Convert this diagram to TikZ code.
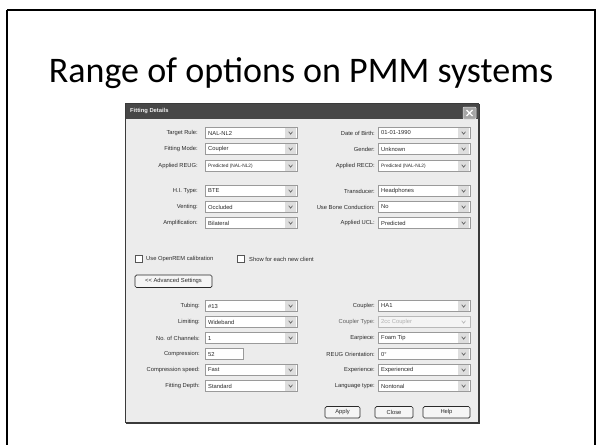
\documentclass[tikz,border=0pt]{standalone}
\usepackage{fontspec}
\setmainfont{Carlito}
\newfontfamily\uifont{Liberation Sans}
\definecolor{dlgbg}{HTML}{ECECEC}
\definecolor{dlgborder}{HTML}{3A3A3A}
\definecolor{titlebar}{HTML}{474747}
\definecolor{fieldline}{HTML}{9A9A9A}
\definecolor{ddbtn}{HTML}{DEDEDE}
\definecolor{uitext}{HTML}{2A2A2A}
\definecolor{disabledtext}{HTML}{B0B0B0}
\tikzset{
  lbl/.style={inner sep=0pt, font=\uifont\fontsize{5.8}{7}\selectfont, text=uitext, anchor=east},
  val/.style={inner sep=0pt, font=\uifont\fontsize{5.8}{7}\selectfont, text=uitext, anchor=west},
  smallval/.style={val, font=\uifont\fontsize{4.8}{6}\selectfont},
  fieldbox/.style={draw=fieldline, fill=white, line width=0.6pt},
  disabledbox/.style={draw=fieldline!70, fill=dlgbg!60!white, line width=0.6pt},
  ddbox/.style={fill=ddbtn, draw=none},
  chev/.style={draw=uitext!80, line width=0.6pt},
  btnbox/.style={draw=uitext, fill=dlgbg!50!white, line width=0.7pt, rounded corners=1.5pt},
  chk/.style={draw=uitext!80, fill=white, line width=0.6pt},
}
\newcommand\ddrow[7]{% name, y, label right, field left, field right, label, value
  \node[lbl] (#1l) at (#3,#2) {#6};
  \path[fieldbox] (#4,#2-5.5) rectangle (#5,#2+5.5);
  \path[ddbox] (#5-12,#2-4.6) rectangle (#5-0.9,#2+4.6);
  \draw[chev] (#5-8.3,#2-1.3) -- (#5-6.4,#2+1.2) -- (#5-4.5,#2-1.3);
  \node[val] (#1v) at (#4+3,#2) {#7};
}
\begin{document}
\begin{tikzpicture}[x=1pt,y=-1pt]
\useasboundingbox (0,0) rectangle (596,444);
\fill[white] (0,0) rectangle (596,444);
% slide frame
\draw[line width=2pt, black] (7,10) -- (595,10) -- (595,460);
\draw[line width=2pt, black] (7,10) -- (7,460);
% title
\node[anchor=base, inner sep=0pt, font=\fontsize{36}{40}\selectfont] (title) at (301,82) {Range of options on PMM systems};
% dialog
\path[fill=dlgbg, draw=dlgborder, line width=1.4pt] (125.5,103.5) rectangle (478.5,422.5);
\draw[dlgborder, line width=1pt] (126,423.5) -- (479.5,423.5) -- (479.5,104);
\path[fill=titlebar] (125.5,103.5) rectangle (478.5,119);
\node[anchor=west, inner sep=0pt, text=white!90!gray, font=\uifont\bfseries\fontsize{5.8}{7}\selectfont] (dlgtitle) at (130,111.5) {Fitting Details};
\path[fill=gray!70, draw=white!80!gray, line width=0.5pt, rounded corners=1pt] (463,107) rectangle (476,119);
\draw[white, line width=1.3pt] (466.5,110) -- (472.5,116) (466.5,116) -- (472.5,110);
% upper left column
\ddrow{tr}{133}{198}{205}{297}{Target Rule:}{NAL-NL2}
\ddrow{fm}{149}{198}{205}{297}{Fitting Mode:}{Coupler}
\node[lbl] (arl) at (198,166) {Applied REUG:};
\path[fieldbox] (205,160.5) rectangle (297,171.5);
\path[ddbox] (285,161.4) rectangle (296.1,170.6);
\draw[chev] (288.7,164.7) -- (290.6,167.2) -- (292.5,164.7);
\node[smallval] (arv) at (208,166) {Predicted (NAL-NL2)};
\ddrow{hi}{191}{198}{205}{297}{H.I. Type:}{BTE}
\ddrow{ve}{207}{198}{205}{297}{Venting:}{Occluded}
\ddrow{am}{223}{198}{205}{297}{Amplification:}{Bilateral}
% upper right column
\ddrow{db}{133}{375}{378}{470}{Date of Birth:}{01-01-1990}
\ddrow{ge}{149}{375}{378}{470}{Gender:}{Unknown}
\node[lbl] (rcl) at (375,166) {Applied RECD:};
\path[fieldbox] (378,160.5) rectangle (470,171.5);
\path[ddbox] (458,161.4) rectangle (469.1,170.6);
\draw[chev] (461.7,164.7) -- (463.6,167.2) -- (465.5,164.7);
\node[smallval] (rcv) at (381,166) {Predicted (NAL-NL2)};
\ddrow{td}{191}{375}{378}{470}{Transducer:}{Headphones}
\ddrow{bc}{207}{375}{378}{470}{Use Bone Conduction:}{No}
\ddrow{uc}{223}{375}{378}{470}{Applied UCL:}{Predicted}
% checkboxes
\path[chk] (135,255.5) rectangle (142,262.5);
\node[val] (cb1) at (146,259) {Use OpenREM calibration};
\path[chk] (237,255.5) rectangle (244,262.5);
\node[val] (cb2) at (249,259) {Show for each new client};
% advanced settings button
\path[btnbox] (135,275) rectangle (212,287.5);
\node[inner sep=0pt, font=\uifont\fontsize{5.8}{7}\selectfont, text=uitext] (adv) at (173.5,281.2) {<{}< Advanced Settings};
% lower left column
\ddrow{tu}{306}{200}{205}{297}{Tubing:}{\#13}
\ddrow{li}{322}{200}{205}{297}{Limiting:}{Wideband}
\ddrow{nc}{338}{200}{205}{297}{No. of Channels:}{1}
\node[lbl] (cml) at (200,354) {Compression:};
\path[fieldbox] (205,348.5) rectangle (243,359.5);
\node[val] (cmv) at (208,354) {52};
\ddrow{cs}{370}{200}{205}{297}{Compression speed:}{Fast}
\ddrow{fd}{386}{200}{205}{297}{Fitting Depth:}{Standard}
% lower right column
\ddrow{cp}{306}{375}{378}{470}{Coupler:}{HA1}
\node[lbl, text=uitext!75] (ctl) at (375,322) {Coupler Type:};
\path[disabledbox] (378,316.5) rectangle (470,327.5);
\draw[chev, draw=disabledtext] (461.7,320.7) -- (463.6,323.2) -- (465.5,320.7);
\node[val, text=disabledtext] (ctv) at (381,322) {2cc Coupler};
\ddrow{ep}{338}{375}{378}{470}{Earpiece:}{Foam Tip}
\ddrow{ro}{354}{375}{378}{470}{REUG Orientation:}{0°}
\ddrow{ex}{370}{375}{378}{470}{Experience:}{Experienced}
\ddrow{lt}{386}{375}{378}{470}{Language type:}{Nontonal}
% buttons
\path[btnbox] (325,406.5) rectangle (360,418);
\node[inner sep=0pt, font=\uifont\fontsize{5.8}{7}\selectfont, text=uitext] (apply) at (342.5,412.3) {Apply};
\path[btnbox] (375,406.5) rectangle (413,418);
\node[inner sep=0pt, font=\uifont\fontsize{5.8}{7}\selectfont, text=uitext] (close) at (394,412.3) {Close};
\path[btnbox] (423,406.5) rectangle (470,418);
\node[inner sep=0pt, font=\uifont\fontsize{5.8}{7}\selectfont, text=uitext] (help) at (446.5,412.3) {Help};
\end{tikzpicture}
\end{document}
